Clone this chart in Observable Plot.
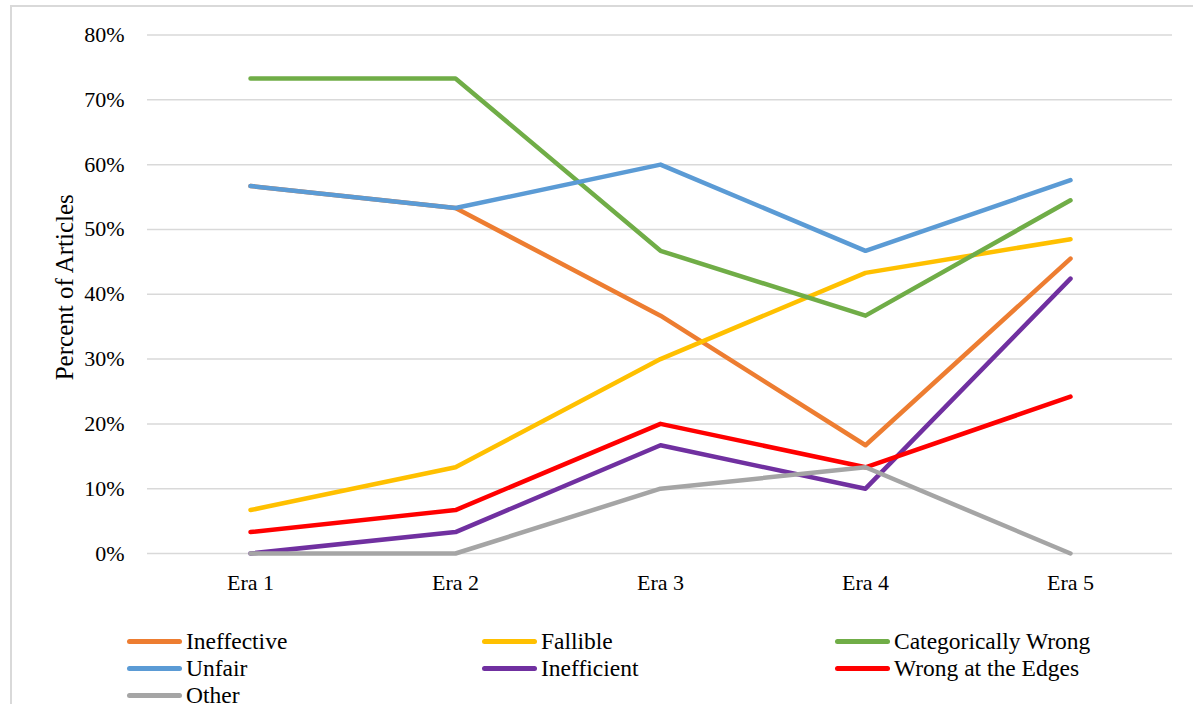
<!DOCTYPE html>
<html>
<head>
<meta charset="utf-8">
<script src="https://cdn.jsdelivr.net/npm/d3@7"></script>
<script src="https://cdn.jsdelivr.net/npm/@observablehq/plot@0.6"></script>
<style>
  html, body { margin: 0; padding: 0; background: #fff; overflow: hidden; width: 1193px; height: 704px; }
  #frame { position: absolute; left: 10px; top: 5px; width: 1200px; height: 720px; border: 2px solid #d9d9d9; box-sizing: border-box; }
  #chart { position: absolute; left: 0; top: 0; }
  #legend { position: absolute; left: 0; top: 0; font-family: "Liberation Serif", serif; font-size: 23.5px; color: #000; }
  .item { position: absolute; display: flex; align-items: center; height: 26px; white-space: nowrap; }
  .sw { width: 55px; height: 5px; border-radius: 3px; margin-right: 4px; }
</style>
</head>
<body>
<div id="frame"></div>
<div id="chart"></div>
<div id="legend"></div>
<script>
const eras = ["Era 1", "Era 2", "Era 3", "Era 4", "Era 5"];
const seriesNames = ["Ineffective", "Fallible", "Categorically Wrong", "Unfair", "Inefficient", "Wrong at the Edges", "Other"];
const seriesColors = ["#ED7D31", "#FFC000", "#70AD47", "#5B9BD5", "#7030A0", "#FF0000", "#A5A5A5"];
const ineffective = [0.567, 0.533, 0.367, 0.167, 0.455];
const fallible = [0.067, 0.133, 0.300, 0.433, 0.485];
const categoricallyWrong = [0.733, 0.733, 0.467, 0.367, 0.545];
const unfair = [0.567, 0.533, 0.600, 0.467, 0.576];
const inefficient = [0.000, 0.033, 0.167, 0.100, 0.424];
const wrongAtEdges = [0.033, 0.067, 0.200, 0.133, 0.242];
const other = [0.000, 0.000, 0.100, 0.133, 0.000];
const yTicks = [0, 0.1, 0.2, 0.3, 0.4, 0.5, 0.6, 0.7, 0.8];
const yTitle = ["Percent of Articles"];

const seriesValues = [ineffective, fallible, categoricallyWrong, unfair, inefficient, wrongAtEdges, other];
const rows = [];
seriesNames.forEach((name, i) => {
  eras.forEach((era, j) => rows.push({series: name, era, value: seriesValues[i][j], order: i}));
});

const chart = Plot.plot({
  width: 1193,
  height: 600,
  marginLeft: 147,
  marginRight: 21,
  marginTop: 34.5,
  marginBottom: 47,
  style: { fontFamily: "Liberation Serif, serif", fontSize: "22px", color: "#000", background: "transparent" },
  x: { type: "point", domain: eras, padding: 0.5, label: null },
  y: { domain: [0, 0.8], label: null },
  color: { domain: seriesNames, range: seriesColors },
  marks: [
    Plot.ruleY(yTicks, { stroke: "#d9d9d9", strokeWidth: 1.5 }),
    Plot.axisY({ ticks: yTicks, tickFormat: d3.format(".0%"), tickSize: 0, tickPadding: 23, fontSize: 22, label: null }),
    Plot.axisX({ tickSize: 0, tickPadding: 21, fontSize: 22, label: null }),
    Plot.text(yTitle, { text: d => d, frameAnchor: "left", rotate: -90, dx: -83, dy: -7, fontSize: 25, textAnchor: "middle", fill: "#000" }),
    ...seriesNames.map(name => Plot.line(rows.filter(r => r.series === name), {
      x: "era", y: "value", stroke: "series", strokeWidth: 4.5, strokeLinecap: "round", strokeLinejoin: "round"
    }))
  ]
});
document.getElementById("chart").appendChild(chart);

// Legend (3 columns, row-major order)
const legend = document.getElementById("legend");
const colX = [127, 482, 835];
const rowY = [628, 655, 682];
seriesNames.forEach((name, i) => {
  const item = document.createElement("div");
  item.className = "item";
  item.style.left = colX[i % 3] + "px";
  item.style.top = rowY[Math.floor(i / 3)] + "px";
  const sw = document.createElement("div");
  sw.className = "sw";
  sw.style.background = seriesColors[i];
  const label = document.createElement("span");
  label.textContent = name;
  item.appendChild(sw);
  item.appendChild(label);
  legend.appendChild(item);
});
</script>
</body>
</html>
